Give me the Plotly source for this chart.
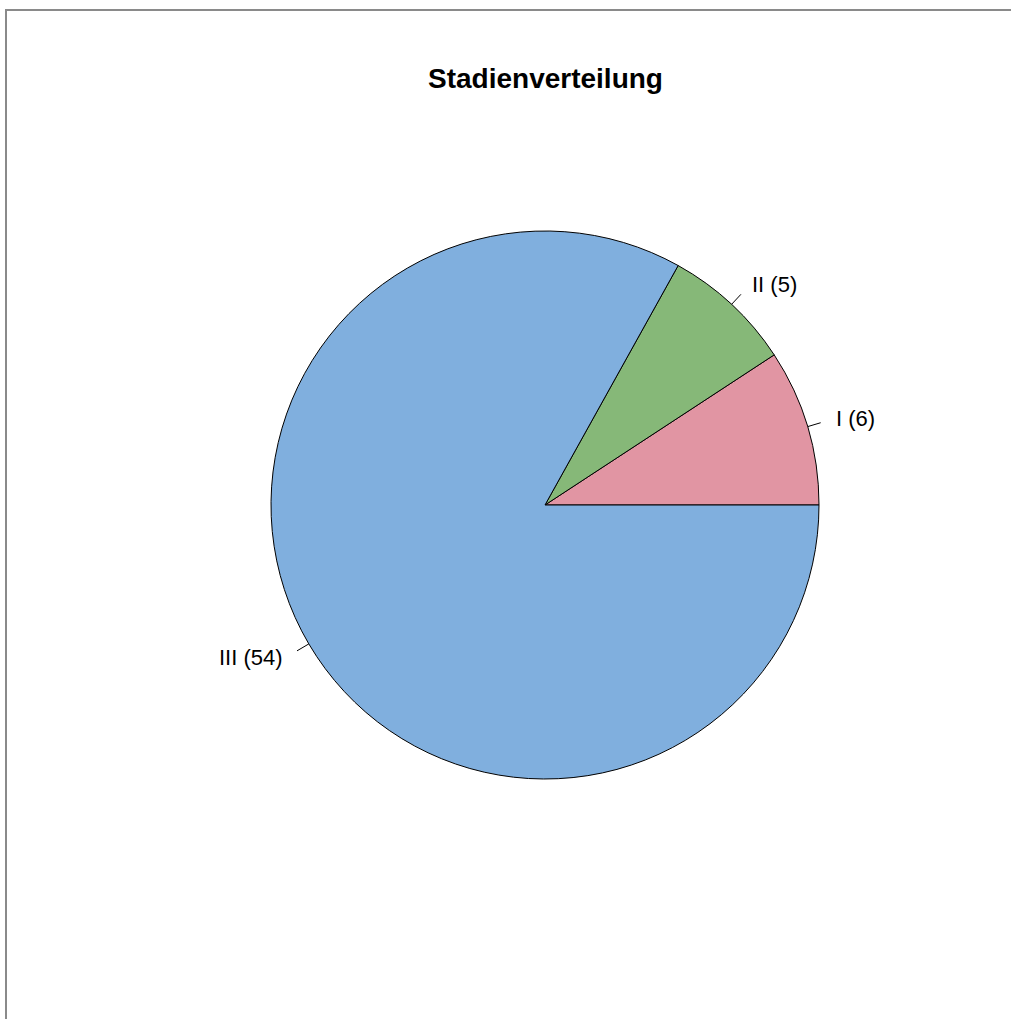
import math
import plotly.graph_objects as go

# Stage distribution
stages = ["I", "II", "III"]
counts = [6, 5, 54]
colors = ["#E195A3", "#86B878", "#80AFDE"]

W, H = 1011, 1019
CX, CY, R = 545, 505, 274  # pie centre and radius in pixels

def px_x(x):
    return x / W

def px_y(y):
    return 1 - y / H

total = sum(counts)

# First slice begins at 3 o'clock and the slices run counterclockwise
fig = go.Figure()
fig.add_trace(go.Pie(
    labels=stages,
    values=counts,
    sort=False,
    direction="counterclockwise",
    rotation=90 - 360 * counts[0] / total,
    textinfo="none",
    hoverinfo="skip",
    marker=dict(colors=colors, line=dict(color="black", width=1)),
    domain=dict(x=[px_x(CX - R), px_x(CX + R)], y=[px_y(CY + R), px_y(CY - R)]),
    showlegend=False,
))

# Outside labels with short tick marks at each slice's mid angle
shapes = []
annotations = []
cum = 0
for lab, n in zip(stages, counts):
    mid = 2 * math.pi * (cum + n / 2) / total
    cum += n
    c, s = math.cos(mid), math.sin(mid)
    shapes.append(dict(
        type="line", xref="paper", yref="paper",
        x0=px_x(CX + R * c), y0=px_y(CY - R * s),
        x1=px_x(CX + 1.05 * R * c), y1=px_y(CY - 1.05 * R * s),
        line=dict(color="black", width=1),
    ))
    annotations.append(dict(
        x=px_x(CX + 1.1 * R * c), y=px_y(CY - 1.1 * R * s),
        xref="paper", yref="paper",
        text=f"{lab} ({n})", showarrow=False,
        xanchor="left" if c > 0 else "right", yanchor="middle",
        font=dict(family="Liberation Sans, Arial, sans-serif", size=22, color="black"),
    ))

# Frame lines along the top and left edges
shapes.append(dict(type="line", xref="paper", yref="paper",
                   x0=px_x(5), y0=px_y(10), x1=1, y1=px_y(10),
                   line=dict(color="#8a8a8a", width=2)))
shapes.append(dict(type="line", xref="paper", yref="paper",
                   x0=px_x(6), y0=px_y(10), x1=px_x(6), y1=0,
                   line=dict(color="#8a8a8a", width=2)))

annotations.append(dict(
    x=px_x(CX), y=px_y(79), xref="paper", yref="paper",
    text="<b>Stadienverteilung</b>", showarrow=False,
    xanchor="center", yanchor="middle",
    font=dict(family="Liberation Sans, Arial, sans-serif", size=28, color="black"),
))

fig.update_layout(
    width=W, height=H,
    margin=dict(l=0, r=0, t=0, b=0),
    paper_bgcolor="white",
    plot_bgcolor="white",
    shapes=shapes,
    annotations=annotations,
)

fig.write_html("out.html")
